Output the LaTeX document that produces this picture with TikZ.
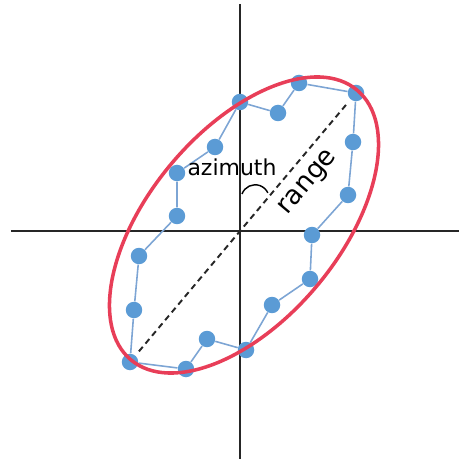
\documentclass[tikz,border=0pt]{standalone}
\usepackage{fontspec}
\setmainfont{DejaVu Sans}
\usepackage{tikz}
\usetikzlibrary{arrows.meta,calc}
\definecolor{DotBlue}{RGB}{91,155,213}
\definecolor{LinkBlue}{RGB}{125,165,212}
\definecolor{RingRed}{RGB}{232,62,88}

\begin{document}
\begin{tikzpicture}[
    x=0.02cm, y=0.02cm,
    dot/.style={circle, fill=DotBlue, inner sep=0pt, minimum size=0.33cm},
    link/.style={draw=LinkBlue, line width=0.9pt},
    axis/.style={draw=black!85, line width=0.8pt},
    ring/.style={draw=RingRed, line width=2pt},
    rangeline/.style={draw=black!85, line width=1.1pt, dash pattern=on 3.4pt off 2.4pt, shorten <=3pt, shorten >=3pt}
  ]
    \useasboundingbox (-240,-228) rectangle (219,231);
    % axes
    \coordinate (o) at (0,0);
    \coordinate (top) at (0,227);
    \coordinate (bot) at (0,-228);
    \coordinate (lft) at (-229,0);
    \coordinate (rgt) at (219,0);
    \draw[axis] (top) -- (bot);
    \draw[axis] (lft) -- (rgt);
    % samples
    \node[dot] (p1) at (-110,-131) {};
    \node[dot] (p2) at (-106,-79) {};
    \node[dot] (p3) at (-101,-25) {};
    \node[dot] (p4) at (-63,15) {};
    \node[dot] (p5) at (-63,58) {};
    \node[dot] (p6) at (-25,84) {};
    \node[dot] (p7) at (0,129) {};
    \node[dot] (p8) at (38,118) {};
    \node[dot] (p9) at (59,148) {};
    \node[dot] (p10) at (116,138) {};
    \node[dot] (p11) at (113,89) {};
    \node[dot] (p12) at (108,36) {};
    \node[dot] (p13) at (72,-4) {};
    \node[dot] (p14) at (70,-48) {};
    \node[dot] (p15) at (32,-74) {};
    \node[dot] (p16) at (6,-119) {};
    \node[dot] (p17) at (-33,-108) {};
    \node[dot] (p18) at (-54,-138) {};
    \draw[link] (p1) -- (p2) -- (p3) -- (p4) -- (p5) -- (p6) -- (p7) -- (p8) -- (p9)
      -- (p10) -- (p11) -- (p12) -- (p13) -- (p14) -- (p15) -- (p16) -- (p17) -- (p18) -- (p1);
    % range and azimuth
    \draw[rangeline] (p1) -- (p10);
    \coordinate (az) at (2,37);
    \draw[black, line width=0.8pt] (az) arc[start angle=160, end angle=25, radius=14];
    \node (azlabel) at (-8,64) {\fontsize{12.5}{15}\selectfont azimuth};
    \node[rotate=50] (rangelabel) at (69,48) {\fontsize{15}{18}\selectfont range};
    % fitted ellipse
    \draw[ring, rotate around={50:(4,6)}] (4,6) ellipse [x radius=176, y radius=95];
  \end{tikzpicture}
\end{document}
